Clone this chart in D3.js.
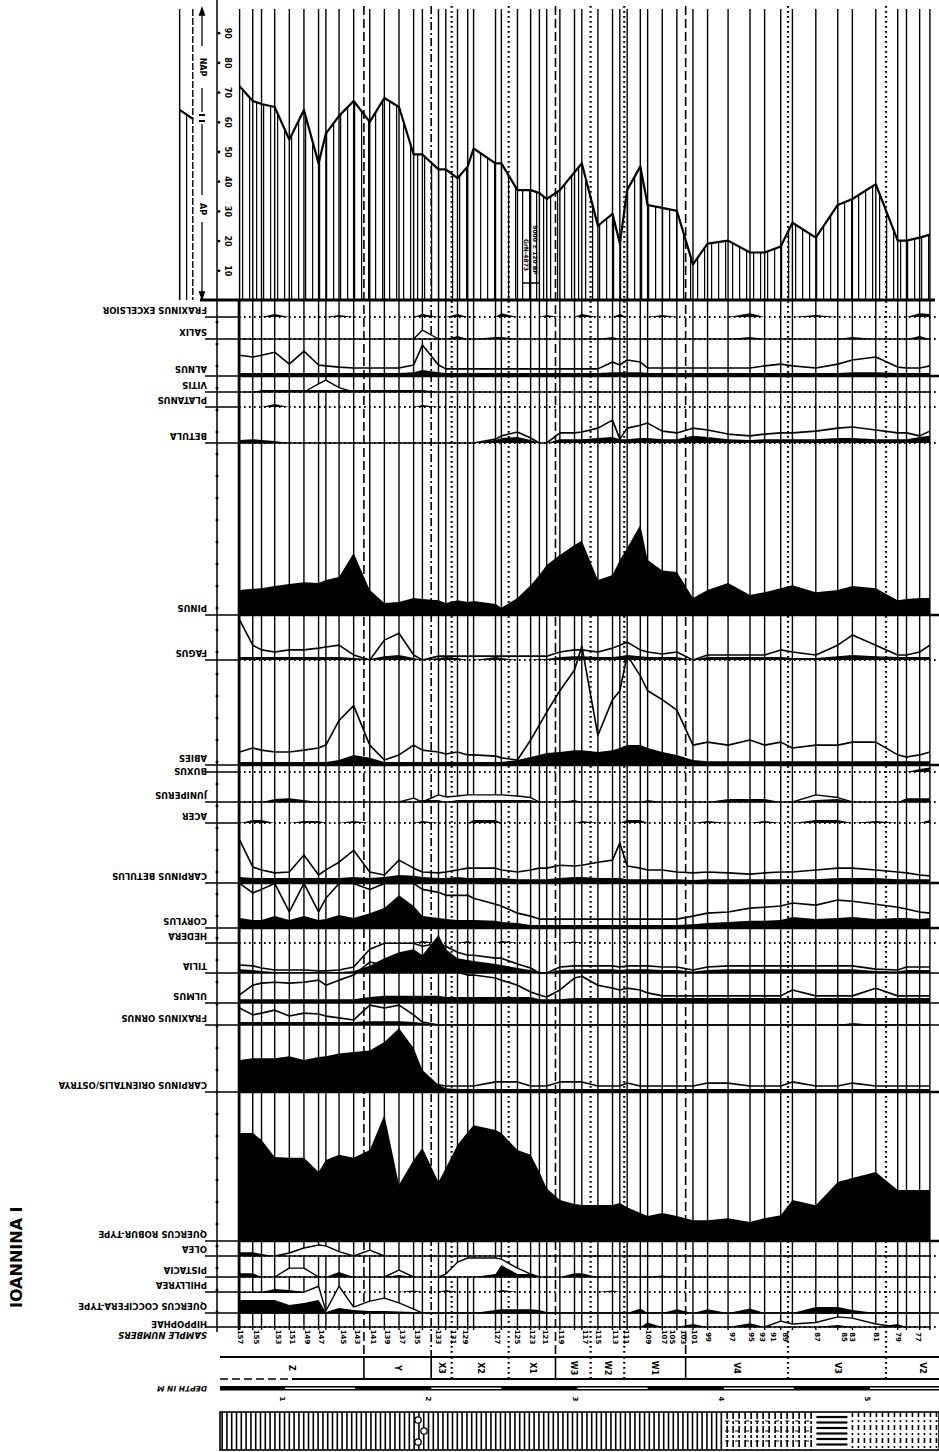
<!DOCTYPE html>
<html>
<head>
<meta charset="utf-8">
<title>Ioannina I</title>
<script src="https://cdn.jsdelivr.net/npm/d3@7"></script>
<style>
  body { margin: 0; background: #fff; }
  svg { display: block; }
  text { font-family: "DejaVu Sans", sans-serif; font-weight: bold; fill: #000; }
</style>
</head>
<body>
<svg id="chart" width="939" height="1452"></svg>
<script>
// ---------- data ----------
// depth (m) of each counted level, left = top of the core
const sampleDepth = [0.71,0.80,0.86,0.95,1.05,1.15,1.25,1.30,1.39,1.49,1.60,1.70,1.80,1.90,1.96,2.07,2.12,2.20,2.27,2.31,2.46,2.50,2.61,2.70,2.76,2.81,2.90,3.00,3.05,3.16,3.26,3.31,3.36,3.45,3.50,3.60,3.70,3.81,3.91,4.05,4.20,4.30,4.41,4.49,4.65,4.80,4.90,5.06,5.21,5.27,5.36,5.43]

// arboreal pollen, % of pollen sum
const apPct = [72,67,66,65,54,64,46,56,62,67,60,68,65,49,49,44,44,41,45,51,46,46,37,37,36,34,37,43,46,25,29,19,37,45,32,31,30,12,19,20,16,16,18,26,21,32,34,39,20,20,21,22]
// the two levels drawn left of the AP/NAP bracket
const apTopDepth = [0.30, 0.39]
const apTopPct = [64, 61]
const apTicks = [10,20,30,40,50,60,70,80,90]

// major taxa, % (black silhouettes) and x10 exaggeration curves
const alnus      = [1,1,1,1,1,1,1,1,1,1,1,1,1,1.3,2,1.3,1,1,1,1,1,1,1,1,1,1,1,1,1,1,1.3,1.3,1.3,1.3,1,1,1,1,1,1,1,1,1,1,1,1,1.3,1.3,1,1,1,1]
const alnusX10   = [7,6.4,7,8,4,8.4,3.7,3.4,3,2.7,2.7,2.7,2.7,3.7,10.4,3.7,2.4,2.4,2.4,2.4,2.4,2.4,2.4,2.4,2.4,2.4,2.4,2.4,2.4,2.4,4.7,3.7,5.4,4.7,2.7,2.7,2.7,2.7,2.7,2.7,2.7,3.4,4,3.4,2.7,4,5.4,6.4,3,2.7,2.7,3.4]
const betula     = [1,1.3,1,0.7,0,0,0,0,0,0,0,0,0,0,0,0,0,0,0,0,1,1.7,2,1,0,0,1.3,1.3,1.3,1.7,2,1.3,1.3,1.7,1.7,1.3,1.3,2.4,2,1.3,1,1.3,1.3,1.3,1.3,1.7,1.7,1.3,1.3,1.3,2,2.4]
const betulaX10  = [0,0,0,0,0,0,0,0,0,0,0,0,0,0,0,0,0,0,0,0,1.3,2.4,3.7,1.7,0,0,3.4,3.4,3.7,5,7.7,1.3,5,6,6.7,4,3.4,5,4.4,3,2.4,3,3.4,3.4,4,5,5.4,4.4,3.4,3.4,2.4,4]
const pinus      = [8.4,8.8,9,9.8,10.4,11,10.8,11.8,12.8,20.9,8.4,4,4.4,5.7,5.4,5,4,5,4.4,4.7,3.7,2.4,5.7,10,13.5,16.8,20.2,23.6,25,11.8,13.5,18.5,22.6,30.3,18.5,15,14.5,5.7,8.4,10.8,6.7,7.7,9,10,7.7,8.4,9.8,9,5,5.4,5.7,5.7]
const fagus      = [1,1,1,1,1,1,1,1,1,0.7,0.3,1.3,1.7,0.7,0,0.7,1,0.7,0,0,1,0.7,0,0,0.3,0.3,1,1.3,1.3,1,1,1.3,1.7,1.3,1,1,1,0,1,1,1,1,1,0.7,0.7,1.3,1.7,1.3,1,1,1,1]
const fagusX10   = [13.5,5,3.4,2.7,3.4,3.4,4,4.4,5,1.7,0,6.7,9,1.7,0,1.3,1.3,1.3,1.3,1.3,1.3,1.3,1.3,1.3,1.3,1.3,2.7,3.4,3.4,2.7,4,5,6,3.4,2.7,2,2.7,0,1.7,1.7,1.7,1.7,3.4,2.7,1.7,5,8.4,5,1.7,1.7,2.7,5]
const abies      = [1,1,1,1,1,1,1,1,1.7,3.4,2.4,1,1,1,1,1,1,1,1,1,1,1,1.7,2.7,3.4,4,4.4,5,5,4.4,5,5.7,6.7,6.7,5.7,4.4,3.4,1.7,1.3,1.3,1.3,1.3,1.3,1.3,1.3,1.3,1.3,1.3,1.3,1.3,1.3,1.3]
const abiesX10   = [4.4,5.7,5,4.4,4.4,5,5.7,6.7,15,20,6.7,1.7,3.4,6.7,5,4.4,3.7,4.4,3.4,3.4,3,2.4,1.7,8.4,13.5,17.8,25,32,40,10,22,25,37,30,25,22,18.5,6.7,7.7,6.7,8.4,6.7,7.7,5.7,6.7,6.7,7.7,7.7,3.4,2.7,3.4,4.4]
const carpBet    = [2,1.7,1.7,1.7,1.7,1.7,1.7,1.7,1.7,2,1.7,2,2.7,2.4,2,1.7,1.7,2,1.7,1.7,1.7,1.7,1.3,1.3,1.3,1.3,1.7,2,2,1.7,1.7,1.7,1.3,1.3,1.3,1.3,1.3,1,1.3,1.3,1.3,1.3,1.3,1.3,1.3,1.7,1.7,1.7,1.3,1.3,1.3,1.3]
const carpBetX10 = [14.5,5.4,4.4,3.4,3.7,9.4,2.7,4.4,7,11,3.7,2.7,7.7,5,3.7,3.4,3.7,4.4,5,5,5,4.4,3.7,4.4,5,5,6,5.7,6,7,7.7,13.5,5.7,5,4.4,4.4,3.7,3.4,3.7,3.4,3,3.4,3.7,3.7,4.4,5,5,4.4,3.7,3.4,2.7,2.4]
const corylus    = [3.4,2.7,2.7,4,2.7,4,2.7,3,4.4,3.4,5,6.7,11,7.4,4,3.4,3,2.7,2.7,2.7,2.4,2,1.7,1,1,1,1,1,1,1,1,1,1,1,1,1,1,1.3,1.7,2,2.4,2.4,2.7,3.7,3,3.4,3.7,3,3.4,3.4,3,3.4]
const corylusX10 = [15,11.8,13,15,5.4,15,5.4,10,15,15,13,15,15,15,13,12,11,11,11,10,8,7.4,5,4,3,3,3,3,3,3,3,3,3,3,3,3,3,4,5,5.4,6.7,7,7.4,8.4,7.7,9.4,9,8,7,6.4,5.4,5]
const tilia      = [1.3,1,0.7,0.3,0.3,0.3,0.3,0.3,0.3,0.7,2.4,5,7,8,6,12.8,8,5,4.4,4,3,2.7,1.7,1,0.5,0,1,1.3,1.3,1.3,1.3,1,1.3,1.3,1.3,1,1,0.5,1,1.3,1.3,1.3,1.3,1.3,1.3,1.3,1.3,0.7,0.5,1,1,1]
const tiliaX10   = [2.7,2.4,1.7,1,1,1,0.7,0.7,1,2,8,10,10,10,9,10,9,7,6,6,5,5,3,1.7,0,0,2,2.4,2.4,2.4,2.4,2,2.4,2.4,2.4,2,2,1,2,2.4,2.4,2.4,2.4,2.4,2.4,2.4,2.4,1.3,1,2,2,2]
const ulmus      = [1.3,1.3,1.3,1.3,1.3,1.3,1.3,1.3,1.3,1.3,2,2.4,2.4,2.4,2.4,2.4,2,2,2,2,2,2,2,2,1.3,1.3,1.3,1.7,1.7,1.7,1.7,1.7,1.7,1.7,1.7,1.7,1.7,1.7,1.7,1.7,1.7,1.7,1.7,1.7,1.7,1.7,1.7,1.7,1.7,1.7,1.7,1.7]
const ulmusX10   = [2.7,6,6.7,7,6.7,7,7.7,6,7.7,9.4,13.8,12.8,14.5,11,12.8,11.8,11,10.4,9.4,9.4,8.4,7.7,6,3.7,2.7,2,4.4,8.4,9,6,5,4.4,5,4.4,3.4,2.4,2.4,2.4,2.4,2.4,2.4,2.4,2.4,4.4,2.4,2.4,2.4,5,2.4,2.4,2.4,2.4]
const fraxOrn    = [1,1,1,1,1,1,1,1,1,1,1.3,1.3,1.3,1,0.7,0,0,0,0,0,0,0,0,0,0,0,0,0,0,0,0,0,0,0,0,0,0,0,0,0,0,0,0,0,0,0,0.7,0,0,0,0,0]
const fraxOrnX10 = [5.7,3.4,4,5,3,4,3.7,3,2.4,1.7,6.7,5.7,6.7,3.4,1,0,0,0,0,0,0,0,0,0,0,0,0,0,0,0,0,0,0,0,0,0,0,0,0,0,0,0,0,0,0,0,0,0,0,0,0,0]
const carpOri    = [10.8,11.4,11.4,11.4,12,10.8,11.8,12,13,13.5,14,16.8,21.5,14.8,7.4,2.4,1.3,1,1,1,1,1,1,1,1,1,1,1,1,1,1,1,1,1,1,1,1,1,1,1,1,1,1,1,1,1,1,1,1,1,1,1]
const carpOriX10 = [0,0,0,0,0,0,0,0,0,0,0,0,0,0,0,2.4,2,2,2,2,3.4,3.4,3.4,2,2,2,3.4,3.4,3.4,2,2,2,3,2,2,2,2,2,3,3,2,2,2,3.4,2,2,3,2,2,2,2,2]
const quercusRob = [36.4,36.4,34,28.3,28,28,23.2,27.3,29,28,30.6,42.4,18.9,27.3,31.3,19.9,24.6,32.3,36.7,39,37.4,36.4,30.6,29,23.2,17.8,13.8,12.5,12.1,12.1,12.1,12.8,11.4,9.4,8.4,9.4,8.4,7,7,7.7,6.4,7.7,8.7,13.8,12,19.9,21.2,23.2,17.2,17.2,17.2,17.2]

// minor taxa as [sample number (1-based), %] pairs
const fraxExc    = [[4,1],[9,0.7],[15,1],[18,1],[22,1.3],[26,0.7],[29,1],[32,1],[36,0.7],[41,1.3],[45,0.7],[51,1.3],[52,1]]
const salix      = [[18,1],[21,0.7],[22,0.7],[31,0.7],[41,0.7],[47,0.7],[51,1]]
const salixX10   = [[15,3]]
const vitis      = [[3,0.7],[4,0.7],[5,0.7],[6,0.7],[7,0.7],[8,0.7],[9,0.7],[10,0.7],[11,0.7],[12,0.7],[13,0.7],[14,0.7],[15,0.7]]
const vitisX10   = [[7,2.7],[8,4],[9,1.5]]
const platanus   = [[4,1],[15,0.7]]
const buxus      = [[51,1],[52,1.5]]
const juniperus  = [[4,1],[5,1.3],[6,0.7],[15,0.7],[16,0.7],[18,0.7],[19,0.7],[20,0.7],[21,0.7],[22,0.7],[23,0.7],[24,0.7],[28,0.7],[35,0.7],[40,1],[41,1],[42,1],[45,0.7],[46,1],[50,1.3],[51,1.3],[52,1.3]]
const juniperusX10 = [[14,1.3],[16,2.4],[17,1.7],[18,2],[19,2.4],[20,2.4],[21,2.4],[22,2.4],[23,2],[24,1.5],[45,2.4],[46,1.5]]
const acer       = [[2,1],[3,1],[6,0.7],[7,0.7],[10,0.7],[15,0.7],[20,1],[21,1],[29,0.7],[33,1],[34,1],[39,0.7],[42,0.7],[45,1],[46,1],[48,0.7],[52,1]]
const hedera     = [[15,0.7],[19,0.7],[22,0.7],[28,0.5]]
const olea       = [[1,1.3],[2,1.3],[3,0.7]]
const oleaX10    = [[5,1],[6,2.7],[7,3.7],[8,3.4],[9,1.5],[11,2]]
const pistacia   = [[1,1.3],[2,1.3],[9,1.7],[13,0.7],[21,1],[22,4],[23,1],[24,1],[28,1.3],[29,1.3],[36,0.5]]
const pistaciaX10 = [[5,3],[6,3],[13,2.3],[17,1],[18,5],[19,6.4],[20,6.4],[21,6.4],[22,6],[23,3],[24,1]]
const phillyrea  = [[4,1],[5,0.7],[14,0.5],[17,0.7],[22,0.7],[31,0.5]]
const quercusCoc = [[1,4.4],[2,4.4],[3,4.4],[4,4.4],[5,2.7],[6,3.4],[7,4.4],[8,0.3],[9,1.7],[10,1],[11,0.7],[12,0.7],[13,0.5],[14,0.3],[21,1],[22,1.3],[23,1.3],[24,1.3],[25,1],[26,0.3],[34,1.5],[37,1.3],[39,1.3],[41,1.5],[45,2],[46,2],[47,1]]
const quercusCocX10 = [[1,7],[2,7],[3,7],[4,7],[5,7],[6,7],[7,9],[8,0.7],[9,9],[10,2],[11,4],[12,5],[13,3.4],[14,1.3]]
const hippophae  = [[35,1.5],[38,1],[41,1.3],[46,0.7],[49,1]]
const hippophaeX10 = [[43,2],[44,1],[45,1.5],[46,3.4],[47,3],[48,1]]

const taxonNames = ['FRAXINUS EXCELSIOR','SALIX','ALNUS','VITIS','PLATANUS','BETULA','PINUS','FAGUS','ABIES','BUXUS','JUNIPERUS','ACER','CARPINUS BETULUS','CORYLUS','HEDERA','TILIA','ULMUS','FRAXINUS ORNUS','CARPINUS ORIENTALIS/OSTRYA','QUERCUS ROBUR-TYPE','OLEA','PISTACIA','PHILLYREA','QUERCUS COCCIFERA-TYPE','HIPPOPHAE']

// sample numbers printed under the diagram
const sampleNoDepth = [0.71,0.82,0.97,1.07,1.17,1.27,1.42,1.51,1.62,1.72,1.82,1.92,2.07,2.17,2.25,2.47,2.61,2.71,2.80,2.91,3.07,3.16,3.28,3.35,3.50,3.61,3.67,3.74,3.82,3.91,4.08,4.21,4.28,4.36,4.44,4.66,4.84,4.90,5.06,5.21,5.35]
const sampleNo = ['157','155','153','151','149','147','145','143','141','139','137','135','133','131','129','127','125','123','121','119','117','115','113','111','109','107','105','103','101','99','97','95','93','91','89','87','85','83','81','79','77']

// pollen zones
const zoneBounds = [1.56,2.02,2.16,2.55,2.87,3.11,3.34,3.76,4.46,5.13]
const zoneBoundMajor = [true,true,false,false,true,false,false,true,false,false]
const zoneNames = ['Z','Y','X3','X2','X1','W3','W2','W1','V4','V3','V2']
const depthTicks = [1,2,3,4,5]

// lithology column
const lithoFrom = [0.57,4.03,4.64,4.88]
const lithoTo   = [4.03,4.64,4.88,5.49]
const lithoKind = ['peat','gyttja','clay','marl']
const shellDepth = [1.93]

// ---------- layout ----------
const x = d3.scaleLinear().domain([1, 5]).range([282, 867])
const yAP = d3.scaleLinear().domain([0, 100]).range([300, 3])
const pxPerPct = 2.97
const plotLeft = 239, plotRight = 939, axisX = 217, labelRight = 207
const rowBaseline = [317,339,376,392,407,443,615,660,765,772,802,823,883,928,943,973,1003,1025,1092,1241,1256,1277,1292,1313,1327]
const rowRule = ['dot','dot','heavy','dot','dot','dot','heavy','dot','heavy','dot','dot','dot','heavy','heavy','dot','solid','solid','solid','heavy','heavy','dot','dot','dot','solid','dot']
const labelLift = n => n === 'BUXUS' ? 4 : n === 'HIPPOPHAE' ? 6 : 10
const whiteFill = new Set(['SALIX','VITIS','JUNIPERUS','OLEA','PISTACIA','HIPPOPHAE','QUERCUS COCCIFERA-TYPE'])

const dense = pairs => {
  const v = sampleDepth.map(() => 0)
  pairs.forEach(([i, p]) => { v[i - 1] = p })
  return v
}
const blackSeries = [dense(fraxExc), dense(salix), alnus, dense(vitis), dense(platanus), betula, pinus, fagus, abies,
  dense(buxus), dense(juniperus), dense(acer), carpBet, corylus, dense(hedera), tilia, ulmus, fraxOrn, carpOri,
  quercusRob, dense(olea), dense(pistacia), dense(phillyrea), dense(quercusCoc), dense(hippophae)]
const x10Series = [null, dense(salixX10), alnusX10, dense(vitisX10), null, betulaX10, null, fagusX10, abiesX10,
  null, dense(juniperusX10), null, carpBetX10, corylusX10, null, tiliaX10, ulmusX10, fraxOrnX10, carpOriX10,
  null, dense(oleaX10), dense(pistaciaX10), null, dense(quercusCocX10), dense(hippophaeX10)]

const svg = d3.select('#chart')
const defs = svg.append('defs')

// ---------- AP / NAP panel ----------
const apArea = d3.area().x((d, i) => x(sampleDepth[i])).y0(yAP(0)).y1(d => yAP(d))
const apTopArea = d3.area().x((d, i) => x(apTopDepth[i])).y0(yAP(0)).y1(d => yAP(d))
const clip = defs.append('clipPath').attr('id', 'apclip')
clip.append('path').attr('d', apArea(apPct))
clip.append('path').attr('d', apTopArea(apTopPct))

svg.append('g').attr('clip-path', 'url(#apclip)')
  .selectAll('line').data(d3.range(x(apTopDepth[0]), x(sampleDepth[sampleDepth.length - 1]) + 1, 7))
  .join('line')
  .attr('x1', d => d).attr('x2', d => d).attr('y1', 0).attr('y2', 300)
  .attr('stroke', '#000').attr('stroke-width', 1.2)

// sample lines through the whole diagram
svg.append('g').selectAll('line').data(sampleDepth).join('line')
  .attr('x1', d => x(d)).attr('x2', d => x(d)).attr('y1', 9).attr('y2', 1330)
  .attr('stroke', '#000').attr('stroke-width', 1.4)
svg.append('g').selectAll('line').data(apTopDepth).join('line')
  .attr('x1', d => x(d)).attr('x2', d => x(d)).attr('y1', 9).attr('y2', 300)
  .attr('stroke', '#000').attr('stroke-width', 1.4)
  .attr('stroke-dasharray', (d, i) => i ? '7,2' : null)

// zone boundaries
svg.append('g').selectAll('line').data(zoneBounds).join('line')
  .attr('x1', d => x(d)).attr('x2', d => x(d)).attr('y1', 6).attr('y2', 1357)
  .attr('stroke', '#000').attr('stroke-width', (d, i) => zoneBoundMajor[i] ? 1.6 : 2.2)
  .attr('stroke-dasharray', (d, i) => zoneBoundMajor[i] ? (i === 1 ? '8,3,2,3' : '9,4') : '1.8,3.2')

svg.append('path')
  .attr('d', d3.line().x((d, i) => x(sampleDepth[i])).y(d => yAP(d))(apPct))
  .attr('fill', 'none').attr('stroke', '#000').attr('stroke-width', 2.2).attr('stroke-linejoin', 'round')
svg.append('path')
  .attr('d', d3.line().x((d, i) => x(apTopDepth[i])).y(d => yAP(d))(apTopPct))
  .attr('fill', 'none').attr('stroke', '#000').attr('stroke-width', 2.2)

// AP axis
const apAxis = svg.append('g').attr('transform', `translate(${axisX},0)`)
  .call(d3.axisRight(yAP).tickValues(apTicks).tickSize(0))
apAxis.select('.domain').remove()
apAxis.selectAll('.tick').append('circle').attr('cx', 2).attr('r', 1.4).attr('fill', '#000')
apAxis.selectAll('.tick text')
  .attr('x', null).attr('dy', null).attr('text-anchor', 'middle')
  .attr('transform', 'translate(10,0) rotate(90)')
  .attr('dominant-baseline', 'central')
  .style('font-size', '8px').style('font-family', '"DejaVu Sans", sans-serif').style('font-weight', 'bold')

// AP / NAP bracket
const bx = 202
const bracket = svg.append('g').attr('stroke', '#000').attr('stroke-width', 1.3)
;[[10, 46], [88, 112], [124, 195], [222, 297]].forEach(([a, b]) =>
  bracket.append('line').attr('x1', bx).attr('x2', bx).attr('y1', a).attr('y2', b))
bracket.append('path').attr('d', `M${bx - 2.5},15L${bx},8L${bx + 2.5},15Z`).attr('fill', '#000')
bracket.append('path').attr('d', `M${bx - 2.5},292L${bx},299L${bx + 2.5},292Z`).attr('fill', '#000')
bracket.append('line').attr('x1', bx - 3).attr('x2', bx + 3).attr('y1', 115).attr('y2', 115).attr('stroke-width', 2)
bracket.append('line').attr('x1', bx - 3).attr('x2', bx + 3).attr('y1', 121).attr('y2', 121).attr('stroke-width', 2)
svg.append('text').attr('transform', `translate(${bx},67) rotate(90)`).attr('text-anchor', 'middle')
  .attr('dominant-baseline', 'central').style('font-size', '8px').text('NAP')
svg.append('text').attr('transform', `translate(${bx},209) rotate(90)`).attr('text-anchor', 'middle')
  .attr('dominant-baseline', 'central').style('font-size', '8px').text('AP')

// radiocarbon date
const c14 = svg.append('g').attr('transform', `translate(${x(2.70)},0)`)
c14.append('text').attr('transform', 'translate(-4,255) rotate(90)').attr('text-anchor', 'middle')
  .attr('dominant-baseline', 'central').style('font-size', '6px').text('GrN-4873')
c14.append('text').attr('transform', 'translate(5,250) rotate(90)').attr('text-anchor', 'middle')
  .attr('dominant-baseline', 'central').style('font-size', '6px').text('9000 ± 120 BP')
c14.append('path').attr('d', 'M-8,283H9').attr('stroke', '#000').attr('stroke-width', 1.5)

// ---------- taxon rows ----------
const rows = svg.append('g')
taxonNames.forEach((name, t) => {
  const base = rowBaseline[t]
  const yt = d3.scaleLinear().domain([0, 100]).range([base, base - 100 * pxPerPct])
  const g = rows.append('g')
  const ex = x10Series[t]
  if (ex) {
    if (whiteFill.has(name)) {
      g.append('path')
        .attr('d', d3.area().x((d, i) => x(sampleDepth[i])).y0(base).y1(d => yt(d))(ex))
        .attr('fill', '#fff').attr('stroke', '#000').attr('stroke-width', 1.4).attr('stroke-linejoin', 'round')
    } else {
      g.append('path')
        .attr('d', d3.line().x((d, i) => x(sampleDepth[i])).y(d => yt(d))(ex))
        .attr('fill', 'none').attr('stroke', '#000').attr('stroke-width', 1.6).attr('stroke-linejoin', 'round')
    }
  }
  g.append('path')
    .attr('d', d3.area().x((d, i) => x(sampleDepth[i])).y0(base).y1(d => yt(d))(blackSeries[t]))
    .attr('fill', '#000')
  // baseline
  g.append('line').attr('x1', labelRight - 2).attr('x2', plotLeft).attr('y1', base).attr('y2', base)
    .attr('stroke', '#000').attr('stroke-width', 1.6)
  const rule = rowRule[t]
  g.append('line').attr('x1', plotLeft).attr('x2', plotRight).attr('y1', base).attr('y2', base)
    .attr('stroke', '#000')
    .attr('stroke-width', rule === 'heavy' ? 2.6 : rule === 'solid' ? 1.6 : 1.8)
    .attr('stroke-dasharray', rule === 'dot' ? '1.6,3.4' : null)
  // label, printed upside down
  g.append('text').attr('transform', `translate(${labelRight},${base - labelLift(name)}) rotate(180)`)
    .style('font-size', '8.5px').text(name)
})

// frame and left axis
svg.append('line').attr('x1', 200).attr('x2', 935).attr('y1', 300).attr('y2', 300)
  .attr('stroke', '#000').attr('stroke-width', 3)
svg.append('line').attr('x1', plotLeft).attr('x2', plotLeft).attr('y1', 300).attr('y2', 1330)
  .attr('stroke', '#000').attr('stroke-width', 2.6)
svg.append('line').attr('x1', axisX).attr('x2', axisX).attr('y1', 0).attr('y2', 1332)
  .attr('stroke', '#000').attr('stroke-width', 1.5)
svg.append('g').selectAll('circle').data(d3.range(322, 1330, 22)).join('circle')
  .attr('cx', axisX).attr('cy', d => d).attr('r', 1.5).attr('fill', '#000')

// ---------- sample numbers ----------
svg.append('text').attr('transform', `translate(${labelRight},1332) rotate(180)`)
  .style('font-size', '8.5px').style('font-style', 'italic').text('SAMPLE NUMBERS')
svg.append('g').selectAll('text').data(sampleNo).join('text')
  .attr('transform', (d, i) => `translate(${x(sampleNoDepth[i])},1337) rotate(90)`)
  .attr('text-anchor', 'middle').attr('dominant-baseline', 'central')
  .style('font-size', '7px').text(d => d)

// ---------- zones ----------
const zoneLeft = 220, zoneTop = 1357, zoneBottom = 1379
svg.append('line').attr('x1', zoneLeft).attr('x2', plotRight).attr('y1', zoneTop).attr('y2', zoneTop)
  .attr('stroke', '#000').attr('stroke-width', 2)
svg.append('line').attr('x1', zoneLeft).attr('x2', 292).attr('y1', zoneBottom).attr('y2', zoneBottom)
  .attr('stroke', '#000').attr('stroke-width', 1.6).attr('stroke-dasharray', '8,4')
svg.append('line').attr('x1', 292).attr('x2', plotRight).attr('y1', zoneBottom).attr('y2', zoneBottom)
  .attr('stroke', '#000').attr('stroke-width', 2)
svg.append('g').selectAll('line').data(zoneBounds).join('line')
  .attr('x1', d => x(d)).attr('x2', d => x(d)).attr('y1', zoneTop).attr('y2', zoneBottom)
  .attr('stroke', '#000').attr('stroke-width', (d, i) => zoneBoundMajor[i] ? 1.6 : 2.2)
  .attr('stroke-dasharray', (d, i) => zoneBoundMajor[i] ? null : '1.8,3.2')
const zoneEdges = [zoneLeft, ...zoneBounds.map(x), 958]
svg.append('g').selectAll('text').data(zoneNames).join('text')
  .attr('transform', (d, i) => `translate(${(zoneEdges[i] + zoneEdges[i + 1]) / 2},${(zoneTop + zoneBottom) / 2}) rotate(90)`)
  .attr('text-anchor', 'middle').attr('dominant-baseline', 'central')
  .style('font-size', '8px').text(d => d)

// ---------- depth scale ----------
svg.append('text').attr('transform', `translate(${labelRight},1386) rotate(180)`)
  .style('font-size', '7.5px').style('font-style', 'italic').text('DEPTH IN M')
svg.append('rect').attr('x', zoneLeft).attr('y', 1386).attr('width', plotRight - zoneLeft).attr('height', 4.5).attr('fill', '#000')
svg.append('g').selectAll('rect').data(depthTicks).join('rect')
  .attr('x', d => x(d) + 3).attr('width', d => x(d + 0.5) - x(d) - 3).attr('y', 1387.6).attr('height', 1.4)
  .attr('fill', '#fff')
svg.append('g').selectAll('text').data(depthTicks).join('text')
  .attr('transform', d => `translate(${x(d)},1399) rotate(90)`)
  .attr('text-anchor', 'middle').attr('dominant-baseline', 'central')
  .style('font-size', '7px').text(d => d)

// ---------- lithology ----------
const lith = svg.append('g')
const lTop = 1412, lBot = 1450
lithoKind.forEach((k, i) => {
  const a = x(lithoFrom[i]), b = Math.min(x(lithoTo[i]), plotRight)
  if (k === 'peat') {
    lith.append('g').selectAll('line').data(d3.range(a + 3, b, 4.8)).join('line')
      .attr('x1', d => d).attr('x2', d => d).attr('y1', lTop).attr('y2', lBot)
      .attr('stroke', '#000').attr('stroke-width', 1.6)
  } else if (k === 'gyttja') {
    lith.append('g').selectAll('line').data(d3.range(a + 2, b, 6)).join('line')
      .attr('x1', d => d).attr('x2', d => d).attr('y1', lTop).attr('y2', lBot)
      .attr('stroke', '#000').attr('stroke-width', 1.6).attr('stroke-dasharray', '7,2,3,2')
    lith.append('g').selectAll('line').data(d3.range(lTop + 9, lBot, 10)).join('line')
      .attr('x1', a).attr('x2', b).attr('y1', d => d).attr('y2', d => d)
      .attr('stroke', '#000').attr('stroke-width', 1).attr('stroke-dasharray', '4,6')
  } else if (k === 'clay') {
    lith.append('g').selectAll('line').data(d3.range(lTop + 5, lBot - 3, 5.5)).join('line')
      .attr('x1', a + 2).attr('x2', b - 2).attr('y1', d => d).attr('y2', d => d)
      .attr('stroke', '#000').attr('stroke-width', 2.2)
  } else {
    lith.append('g').selectAll('line').data(d3.range(a + 3, b, 6)).join('line')
      .attr('x1', d => d).attr('x2', d => d).attr('y1', lTop).attr('y2', lBot)
      .attr('stroke', '#000').attr('stroke-width', 1.6).attr('stroke-dasharray', '5,3,2,3')
  }
})
shellDepth.forEach(d => {
  ;[[0, 1420], [6, 1431], [0, 1442]].forEach(([dx, cy]) =>
    lith.append('circle').attr('cx', x(d) + dx).attr('cy', cy).attr('r', 3.2)
      .attr('fill', '#fff').attr('stroke', '#000').attr('stroke-width', 1.3))
})
lith.append('rect').attr('x', zoneLeft).attr('y', lTop).attr('width', plotRight - zoneLeft).attr('height', lBot - lTop)
  .attr('fill', 'none').attr('stroke', '#000').attr('stroke-width', 1.6)

// ---------- title ----------
svg.append('text').attr('transform', 'translate(22,1308) rotate(-90)')
  .style('font-size', '16px').text('IOANNINA I')
</script>
</body>
</html>
